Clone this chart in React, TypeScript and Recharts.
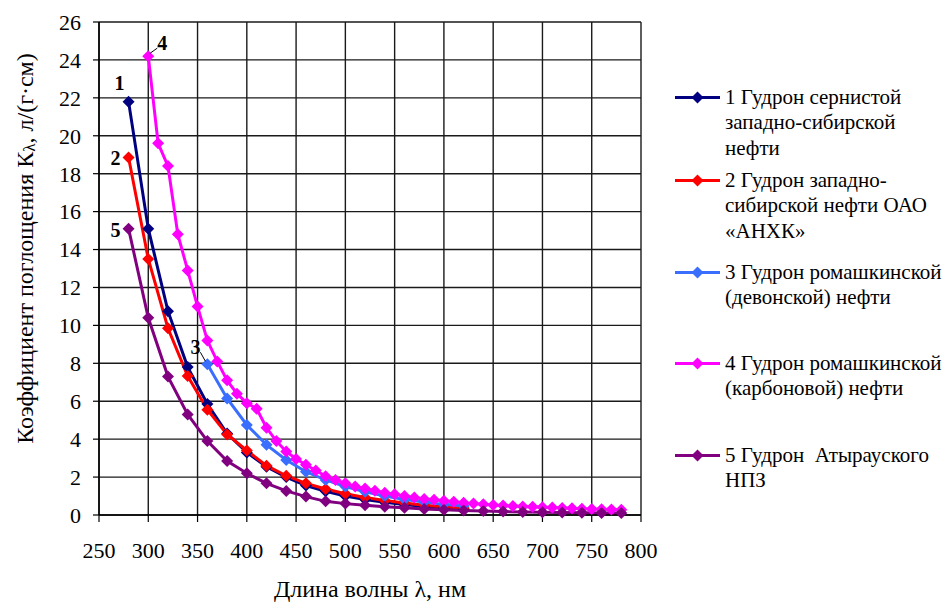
import React from "react";
import {
  LineChart,
  Line,
  XAxis,
  YAxis,
  CartesianGrid,
} from "recharts";

// wavelength grids (nm)
const lambda280to620 = [280, 300, 320, 340, 360, 380, 400, 420, 440, 460, 480, 500, 520, 540, 560, 580, 600, 620];
const lambda360to620 = [360, 380, 400, 420, 440, 460, 480, 500, 520, 540, 560, 580, 600, 620];
const lambda300to780 = [
  300, 310, 320, 330, 340, 350, 360, 370, 380, 390, 400, 410, 420, 430, 440, 450, 460, 470, 480, 490,
  500, 510, 520, 530, 540, 550, 560, 570, 580, 590, 600, 610, 620, 630, 640, 650, 660, 670, 680, 690,
  700, 710, 720, 730, 740, 750, 760, 770, 780,
];
const lambda280to780 = [
  280, 300, 320, 340, 360, 380, 400, 420, 440, 460, 480, 500, 520, 540, 560, 580, 600, 620, 640, 660,
  680, 700, 720, 740, 760, 780,
];

// absorption coefficient K, l/(g*cm)
const k1 = [21.8, 15.1, 10.75, 7.8, 5.85, 4.3, 3.3, 2.55, 2.0, 1.55, 1.25, 1.0, 0.82, 0.67, 0.55, 0.45, 0.38, 0.32];
const k2 = [18.85, 13.5, 9.85, 7.33, 5.55, 4.25, 3.4, 2.6, 2.07, 1.67, 1.37, 1.12, 0.92, 0.76, 0.63, 0.52, 0.44, 0.37];
const k3 = [7.95, 6.15, 4.75, 3.7, 2.9, 2.28, 1.85, 1.5, 1.22, 1.0, 0.82, 0.68, 0.56, 0.47];
const k4 = [
  24.2, 19.6, 18.4, 14.8, 12.9, 11.0, 9.2, 8.1, 7.1, 6.4, 5.9, 5.6, 4.6, 3.9, 3.35, 2.95, 2.65, 2.35, 2.05, 1.85,
  1.67, 1.5, 1.4, 1.28, 1.18, 1.1, 1.0, 0.92, 0.85, 0.8, 0.75, 0.7, 0.65, 0.6, 0.57, 0.53, 0.5, 0.47, 0.45, 0.43,
  0.41, 0.39, 0.37, 0.35, 0.33, 0.32, 0.3, 0.29, 0.28,
];
const k5 = [
  15.1, 10.4, 7.3, 5.3, 3.9, 2.85, 2.2, 1.67, 1.27, 0.97, 0.72, 0.6, 0.52, 0.44, 0.38, 0.32, 0.28, 0.24, 0.21, 0.18,
  0.16, 0.14, 0.13, 0.12, 0.11, 0.1,
];

const legendNames = [
  "1 Гудрон сернистой\nзападно-сибирской\nнефти",
  "2 Гудрон западно-\nсибирской нефти ОАО\n«АНХК»",
  "3 Гудрон ромашкинской\n(девонской) нефти",
  "4 Гудрон ромашкинской\n(карбоновой) нефти",
  "5 Гудрон  Атырауского\nНПЗ",
];
const curveTags = ["1", "2", "3", "4", "5"];
const xTicks = [250, 300, 350, 400, 450, 500, 550, 600, 650, 700, 750, 800];
const yTicks = [0, 2, 4, 6, 8, 10, 12, 14, 16, 18, 20, 22, 24, 26];

const zip = (xs: number[], ys: number[]) => xs.map((x, i) => ({ x, y: ys[i] }));

const FONT = "'Liberation Serif', serif";

const series = [
  { data: zip(lambda280to620, k1), color: "#000080", tag: { dx: -9, dy: -19, leader: false } },
  { data: zip(lambda280to620, k2), color: "#ff0000", tag: { dx: -13, dy: 0, leader: false } },
  { data: zip(lambda360to620, k3), color: "#3a6eff", tag: { dx: -12, dy: -17, leader: true } },
  { data: zip(lambda300to780, k4), color: "#ff00ff", tag: { dx: 14, dy: -13, leader: true } },
  { data: zip(lambda280to780, k5), color: "#800080", tag: { dx: -13, dy: 1, leader: false } },
];

const legendRowCenter = [97, 180, 272, 363, 455];

function Diamond(props: any) {
  const { cx, cy, fill } = props;
  if (cx == null || cy == null) return null;
  const r = 6;
  return (
    <polygon
      points={`${cx},${cy - r} ${cx + r},${cy} ${cx},${cy + r} ${cx - r},${cy}`}
      fill={fill}
      stroke="none"
    />
  );
}

function makeTag(text: string, dx: number, dy: number, leader: boolean) {
  return (props: any) => {
    if (props.index !== 0) return null;
    const { x, y } = props;
    const tx = x + dx;
    const ty = y + dy;
    return (
      <g>
        {leader && (
          <line
            x1={x + Math.sign(dx) * 2}
            y1={y - 3}
            x2={tx - Math.sign(dx) * 5}
            y2={ty + 5}
            stroke="#000"
            strokeWidth={1}
          />
        )}
        <text
          x={tx}
          y={ty}
          textAnchor="middle"
          dominantBaseline="central"
          fontFamily={FONT}
          fontWeight="bold"
          fontSize={20}
          fill="#000"
        >
          {text}
        </text>
      </g>
    );
  };
}

function YTitle(props: any) {
  const vb = props.viewBox || {};
  const cy = (vb.y || 0) + (vb.height || 0) / 2 - 20;
  const cx = 25;
  return (
    <text
      x={cx}
      y={cy}
      transform={`rotate(-90 ${cx} ${cy})`}
      textAnchor="middle"
      dominantBaseline="central"
      fontFamily={FONT}
      fontSize={24}
      fill="#000"
    >
      Коэффициент поглощения К
      <tspan fontSize={17} dy={4}>λ</tspan>
      <tspan dy={-4}>, л/(г·см)</tspan>
    </text>
  );
}

export default function App() {
  const tickStyle = { fontSize: 22, fill: "#000", fontFamily: FONT };
  return (
    <div style={{ position: "absolute", left: 0, top: 0, width: 949, height: 603, background: "#fff" }}>
      <LineChart width={949} height={603} margin={{ top: 22, right: 308, bottom: 0, left: 0 }}>
        <CartesianGrid stroke="#1a1a1a" strokeWidth={1.4} />
        <XAxis
          type="number"
          dataKey="x"
          domain={[250, 800]}
          ticks={xTicks}
          allowDataOverflow
          height={88}
          tick={tickStyle}
          tickSize={7}
          tickMargin={20}
          axisLine={{ stroke: "#000", strokeWidth: 1.5 }}
          tickLine={{ stroke: "#000", strokeWidth: 1.2 }}
          label={{
            value: "Длина волны λ, нм",
            position: "insideBottom",
            offset: 6,
            style: { fontSize: 24, fill: "#000", fontFamily: FONT },
          }}
        />
        <YAxis
          type="number"
          domain={[0, 26]}
          ticks={yTicks}
          width={99}
          tick={tickStyle}
          tickSize={6}
          tickMargin={12}
          axisLine={{ stroke: "#000", strokeWidth: 1.5 }}
          tickLine={{ stroke: "#000", strokeWidth: 1.2 }}
          label={<YTitle />}
        />
        {series.map((s, i) => (
          <Line
            key={i}
            data={s.data}
            dataKey="y"
            type="linear"
            stroke={s.color}
            strokeWidth={3}
            dot={<Diamond fill={s.color} />}
            activeDot={false}
            isAnimationActive={false}
            label={makeTag(curveTags[i], s.tag.dx, s.tag.dy, s.tag.leader)}
          />
        ))}
      </LineChart>
      <div style={{ position: "absolute", left: 670, top: 0, width: 279, height: 603, fontFamily: FONT, fontSize: 21, color: "#000" }}>
        {legendNames.map((name, i) => (
          <div key={i} style={{ position: "absolute", left: 0, top: legendRowCenter[i] - 12.5 }}>
            <svg width={52} height={25} style={{ position: "absolute", left: 0, top: 0 }}>
              <line x1={5} y1={12.5} x2={50} y2={12.5} stroke={series[i].color} strokeWidth={3} />
              <Diamond cx={27.5} cy={12.5} fill={series[i].color} />
            </svg>
            <div style={{ position: "absolute", left: 55, top: 0, lineHeight: "25.5px", whiteSpace: "pre" }}>{name}</div>
          </div>
        ))}
      </div>
    </div>
  );
}
